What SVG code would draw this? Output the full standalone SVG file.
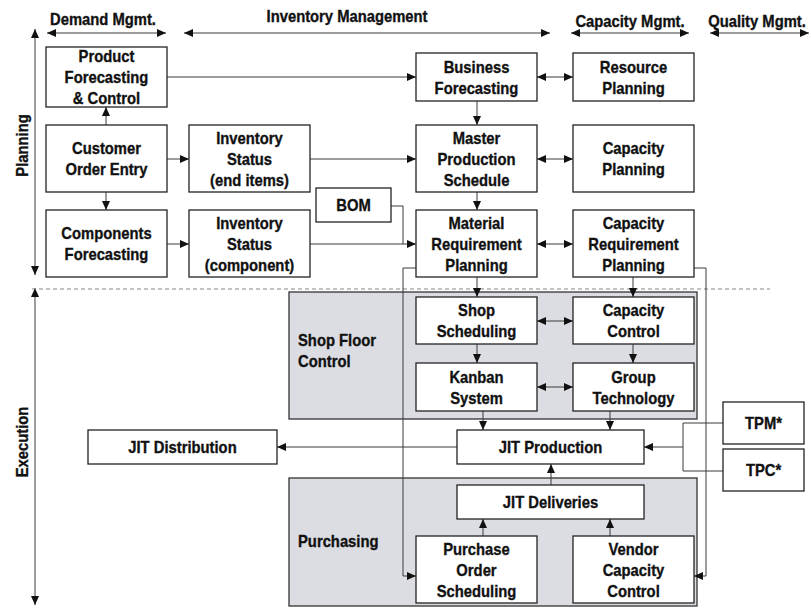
<svg xmlns="http://www.w3.org/2000/svg" width="811" height="608" viewBox="0 0 811 608">
  <style>
    .box { fill: #ffffff; stroke: #222222; stroke-width: 1.3; }
    .panel { fill: #dcdde2; stroke: #333333; stroke-width: 1.3; }
    .t { font-family: "Liberation Sans", Arial, sans-serif; font-weight: bold; font-size: 17px; text-anchor: middle; fill: #111111;
         stroke: #111111; stroke-width: 0.35;
         transform-box: fill-box; transform-origin: center; transform: scaleX(0.87); }
    .l { text-anchor: start; transform-origin: left center; }
    .c { fill: none; stroke: #3a3a3a; stroke-width: 1; }
    .a { marker-end: url(#ah); }
    .aa { marker-start: url(#ah); marker-end: url(#ah); }
    .dash { stroke: #888888; stroke-width: 1.2; stroke-dasharray: 4 3; }
  </style>
  <defs>
    <marker id="ah" markerUnits="userSpaceOnUse" markerWidth="9" markerHeight="8" refX="9" refY="4" orient="auto-start-reverse">
      <path d="M0,0 L9,4 L0,8 z" fill="#111111"/>
    </marker>
  </defs>

  <!-- axis headers -->
  <g id="headers">
    <text class="t" x="103" y="25">Demand Mgmt.</text>
    <text class="t" x="347" y="22">Inventory Management</text>
    <text class="t" x="630" y="27">Capacity Mgmt.</text>
    <text class="t" x="757" y="27">Quality Mgmt.</text>
    <g transform="translate(28,145.5) rotate(-90)"><text class="t" x="0" y="0">Planning</text></g>
    <g transform="translate(28,442) rotate(-90)"><text class="t" x="0" y="0">Execution</text></g>
    <line class="c aa" x1="47" y1="33" x2="166" y2="33"/>
    <line class="c aa" x1="184" y1="33" x2="550" y2="33"/>
    <line class="c aa" x1="571" y1="33" x2="689" y2="33"/>
    <line class="c aa" x1="710" y1="33" x2="809" y2="33"/>
    <line class="c aa" x1="35" y1="29" x2="35" y2="275"/>
    <line class="c aa" x1="35" y1="288" x2="35" y2="605"/>
    <line class="dash" x1="32" y1="289" x2="770" y2="289"/>
  </g>

  <!-- shaded areas -->
  <g id="shop-floor-control">
    <rect class="panel" x="289" y="292" width="408" height="127"/>
    <text class="t l" x="298" y="346">Shop Floor</text>
    <text class="t l" x="298" y="367">Control</text>
  </g>
  <g id="purchasing">
    <rect class="panel" x="289" y="478" width="408" height="128"/>
    <text class="t l" x="298" y="547">Purchasing</text>
  </g>

  <!-- connectors -->
  <g id="connectors">
    <line class="c a" x1="167" y1="77" x2="416" y2="77"/>
    <line class="c a" x1="106" y1="125" x2="106" y2="107"/>
    <line class="c a" x1="106" y1="192" x2="106" y2="210"/>
    <line class="c a" x1="167" y1="159" x2="189" y2="159"/>
    <line class="c a" x1="310" y1="159" x2="416" y2="159"/>
    <line class="c a" x1="167" y1="244" x2="189" y2="244"/>
    <line class="c a" x1="310" y1="244" x2="416" y2="244"/>
    <polyline class="c" points="391,206 403,206 403,244"/>
    <line class="c aa" x1="537" y1="77" x2="573" y2="77"/>
    <line class="c a" x1="477" y1="101" x2="477" y2="125"/>
    <line class="c aa" x1="537" y1="159" x2="573" y2="159"/>
    <line class="c a" x1="477" y1="192" x2="477" y2="210"/>
    <line class="c aa" x1="537" y1="244" x2="573" y2="244"/>
    <line class="c a" x1="477" y1="277" x2="477" y2="297"/>
    <line class="c a" x1="633" y1="277" x2="633" y2="297"/>
    <line class="c aa" x1="537" y1="321" x2="573" y2="321"/>
    <line class="c a" x1="477" y1="344" x2="477" y2="363"/>
    <line class="c a" x1="633" y1="344" x2="633" y2="363"/>
    <line class="c aa" x1="537" y1="387" x2="573" y2="387"/>
    <line class="c a" x1="483" y1="411" x2="483" y2="430"/>
    <line class="c a" x1="610" y1="411" x2="610" y2="430"/>
    <line class="c a" x1="457" y1="447" x2="277" y2="447"/>
    <polyline class="c a" points="416,268 403,268 403,576 416,576"/>
    <polyline class="c a" points="694,268 706,268 706,576 694,576"/>
    <polyline class="c" points="723,423 683,423 683,471 723,471"/>
    <line class="c a" x1="683" y1="447" x2="644" y2="447"/>
    <line class="c a" x1="551" y1="485" x2="551" y2="464"/>
    <line class="c a" x1="483" y1="536" x2="483" y2="519"/>
    <line class="c a" x1="610" y1="536" x2="610" y2="519"/>
  </g>

  <!-- planning nodes -->
  <g id="product-forecasting">
    <rect class="box" x="46" y="47" width="121" height="60"/>
    <text class="t" x="106.5" y="62.5">Product</text>
    <text class="t" x="106.5" y="83.5">Forecasting</text>
    <text class="t" x="106.5" y="104.5">&amp; Control</text>
  </g>
  <g id="customer-order-entry">
    <rect class="box" x="46" y="125" width="121" height="67"/>
    <text class="t" x="106.5" y="154.5">Customer</text>
    <text class="t" x="106.5" y="175.5">Order Entry</text>
  </g>
  <g id="components-forecasting">
    <rect class="box" x="46" y="210" width="121" height="67"/>
    <text class="t" x="106.5" y="239.5">Components</text>
    <text class="t" x="106.5" y="260.5">Forecasting</text>
  </g>
  <g id="inventory-status-end">
    <rect class="box" x="189" y="125" width="121" height="67"/>
    <text class="t" x="249.5" y="144">Inventory</text>
    <text class="t" x="249.5" y="165">Status</text>
    <text class="t" x="249.5" y="186">(end items)</text>
  </g>
  <g id="inventory-status-component">
    <rect class="box" x="189" y="210" width="121" height="67"/>
    <text class="t" x="249.5" y="229">Inventory</text>
    <text class="t" x="249.5" y="250">Status</text>
    <text class="t" x="249.5" y="271">(component)</text>
  </g>
  <g id="bom">
    <rect class="box" x="316" y="188" width="75" height="34"/>
    <text class="t" x="353.5" y="211.5">BOM</text>
  </g>
  <g id="business-forecasting">
    <rect class="box" x="416" y="53" width="121" height="48"/>
    <text class="t" x="476.5" y="73">Business</text>
    <text class="t" x="476.5" y="94">Forecasting</text>
  </g>
  <g id="resource-planning">
    <rect class="box" x="573" y="53" width="121" height="48"/>
    <text class="t" x="633.5" y="73">Resource</text>
    <text class="t" x="633.5" y="94">Planning</text>
  </g>
  <g id="master-production-schedule">
    <rect class="box" x="416" y="125" width="121" height="67"/>
    <text class="t" x="476.5" y="144">Master</text>
    <text class="t" x="476.5" y="165">Production</text>
    <text class="t" x="476.5" y="186">Schedule</text>
  </g>
  <g id="capacity-planning">
    <rect class="box" x="573" y="125" width="121" height="67"/>
    <text class="t" x="633.5" y="154.5">Capacity</text>
    <text class="t" x="633.5" y="175.5">Planning</text>
  </g>
  <g id="material-requirement-planning">
    <rect class="box" x="416" y="210" width="121" height="67"/>
    <text class="t" x="476.5" y="229">Material</text>
    <text class="t" x="476.5" y="250">Requirement</text>
    <text class="t" x="476.5" y="271">Planning</text>
  </g>
  <g id="capacity-requirement-planning">
    <rect class="box" x="573" y="210" width="121" height="67"/>
    <text class="t" x="633.5" y="229">Capacity</text>
    <text class="t" x="633.5" y="250">Requirement</text>
    <text class="t" x="633.5" y="271">Planning</text>
  </g>

  <!-- execution nodes -->
  <g id="shop-scheduling">
    <rect class="box" x="416" y="297" width="121" height="47"/>
    <text class="t" x="476.5" y="316.5">Shop</text>
    <text class="t" x="476.5" y="337.5">Scheduling</text>
  </g>
  <g id="capacity-control">
    <rect class="box" x="573" y="297" width="121" height="47"/>
    <text class="t" x="633.5" y="316.5">Capacity</text>
    <text class="t" x="633.5" y="337.5">Control</text>
  </g>
  <g id="kanban-system">
    <rect class="box" x="416" y="363" width="121" height="48"/>
    <text class="t" x="476.5" y="383">Kanban</text>
    <text class="t" x="476.5" y="404">System</text>
  </g>
  <g id="group-technology">
    <rect class="box" x="573" y="363" width="121" height="48"/>
    <text class="t" x="633.5" y="383">Group</text>
    <text class="t" x="633.5" y="404">Technology</text>
  </g>
  <g id="jit-production">
    <rect class="box" x="457" y="430" width="187" height="34"/>
    <text class="t" x="550.5" y="453.5">JIT Production</text>
  </g>
  <g id="jit-distribution">
    <rect class="box" x="88" y="430" width="189" height="34"/>
    <text class="t" x="182.5" y="453.5">JIT Distribution</text>
  </g>
  <g id="tpm">
    <rect class="box" x="723" y="402" width="81" height="42"/>
    <text class="t" x="763.5" y="429.5">TPM*</text>
  </g>
  <g id="tpc">
    <rect class="box" x="723" y="449" width="81" height="42"/>
    <text class="t" x="763.5" y="476.5">TPC*</text>
  </g>
  <g id="jit-deliveries">
    <rect class="box" x="457" y="485" width="187" height="34"/>
    <text class="t" x="550.5" y="508.5">JIT Deliveries</text>
  </g>
  <g id="purchase-order-scheduling">
    <rect class="box" x="416" y="536" width="121" height="67"/>
    <text class="t" x="476.5" y="555">Purchase</text>
    <text class="t" x="476.5" y="576">Order</text>
    <text class="t" x="476.5" y="597">Scheduling</text>
  </g>
  <g id="vendor-capacity-control">
    <rect class="box" x="573" y="536" width="121" height="67"/>
    <text class="t" x="633.5" y="555">Vendor</text>
    <text class="t" x="633.5" y="576">Capacity</text>
    <text class="t" x="633.5" y="597">Control</text>
  </g>
</svg>
